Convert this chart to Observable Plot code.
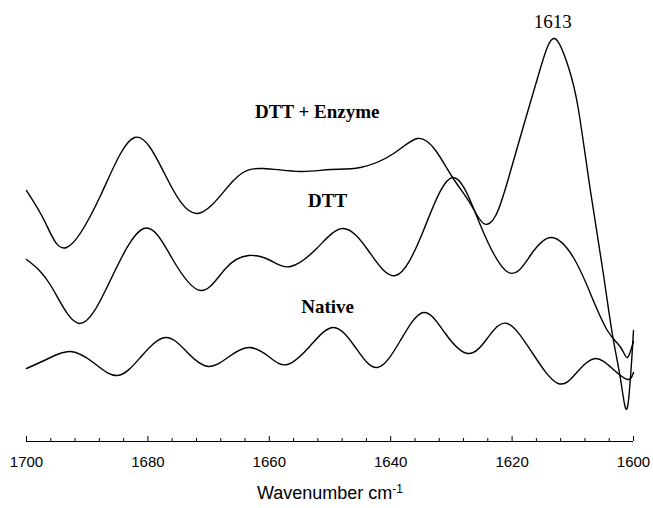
<!DOCTYPE html>
<html>
<head>
<meta charset="utf-8">
<script src="https://cdn.jsdelivr.net/npm/d3@7"></script>
<script src="https://cdn.jsdelivr.net/npm/@observablehq/plot@0.6"></script>
<style>
  html, body { margin: 0; padding: 0; background: #fff; }
  #chart svg { display: block; }
</style>
</head>
<body>
<div id="chart"></div>
<script>
// Second-derivative FTIR spectra (arbitrary units), wavenumber in cm-1
const wnEnzyme = [1700, 1696.9, 1693.4, 1687.8, 1682.2, 1677.1, 1671.8, 1665.9, 1661.0, 1654.9, 1649.9, 1645.0, 1639.5, 1635.6, 1632.6, 1629.8, 1626.9, 1624.7, 1622.7, 1620.8, 1618.1, 1615.3, 1613.0, 1610.7, 1609.1, 1607.1, 1605.1, 1603.5, 1602.1, 1601.0, 1600];
const valEnzyme = [25.1, 21.9, 19.4, 24.6, 30.4, 26.6, 22.8, 26.1, 27.3, 27.0, 27.2, 27.4, 28.8, 30.3, 29.1, 26.4, 23.8, 21.8, 22.6, 25.9, 31.6, 37.4, 40.3, 37.4, 33.3, 25.1, 17.3, 10.8, 6.1, 3.4, 11.1];

const wnDTT = [1700, 1696.0, 1691.3, 1686.2, 1680.7, 1676.0, 1671.3, 1667.2, 1663.4, 1659.8, 1656.5, 1652.2, 1647.9, 1643.7, 1639.2, 1634.6, 1629.8, 1625.2, 1620.6, 1617.0, 1613.5, 1609.9, 1607.1, 1604.3, 1602.1, 1601.0, 1600];
const valDTT = [18.2, 15.6, 11.8, 16.1, 21.3, 18.3, 15.1, 17.3, 18.6, 18.1, 17.5, 19.3, 21.3, 19.1, 16.6, 21.1, 26.4, 21.6, 16.9, 18.6, 20.4, 18.4, 14.8, 11.1, 9.4, 8.4, 10.0];

const wnNative = [1700, 1696.4, 1692.8, 1689.0, 1685.0, 1681.1, 1677.1, 1673.5, 1670.0, 1666.6, 1663.3, 1660.1, 1657.0, 1653.2, 1649.4, 1645.8, 1642.2, 1638.4, 1634.6, 1631.0, 1627.3, 1624.1, 1620.8, 1616.6, 1612.4, 1609.2, 1606.3, 1603.5, 1601.0, 1600];
const valNative = [7.3, 8.3, 9.0, 7.9, 6.6, 8.5, 10.4, 8.9, 7.5, 8.5, 9.4, 8.5, 7.7, 9.6, 11.4, 9.4, 7.4, 10.1, 12.9, 10.8, 8.8, 10.3, 11.8, 8.8, 5.8, 7.0, 8.3, 7.3, 6.2, 6.9];

const majorTicks = [1700, 1680, 1660, 1640, 1620, 1600];
const minorTicks = d3.range(1700, 1599, -4).filter(v => !majorTicks.includes(v));

const seriesLabels = ["DTT + Enzyme", "DTT", "Native"];
const labelX = [1652.1, 1650.4, 1650.4];
const labelY = [33.0, 24.1, 13.5];

const peakLabel = "1613";
const peakX = 1613.3;
const peakY = 42.0;

const toRows = (name, xs, ys) => xs.map((x, i) => ({series: name, x, y: ys[i]}));
const rows = [
  ...toRows("DTT + Enzyme", wnEnzyme, valEnzyme),
  ...toRows("DTT", wnDTT, valDTT),
  ...toRows("Native", wnNative, valNative)
];
const labels = seriesLabels.map((t, i) => ({t, x: labelX[i], y: labelY[i]}));

const plot = Plot.plot({
  width: 653,
  height: 508,
  marginLeft: 26,
  marginRight: 20,
  marginTop: 0,
  marginBottom: 67,
  style: {background: "#fff", color: "#000"},
  x: {domain: [1700, 1600], axis: null},
  y: {domain: [0, 44.1], axis: null},
  marks: [
    Plot.ruleY([0], {stroke: "#000", strokeWidth: 1}),
    Plot.ruleX(majorTicks, {x: d => d, y1: 0, y2: 0.5, stroke: "#000", strokeWidth: 1}),
    Plot.ruleX(minorTicks, {x: d => d, y1: 0, y2: 0.3, stroke: "#000", strokeWidth: 1}),
    Plot.axisX({ticks: majorTicks, tickSize: 0, tickPadding: 15, tickFormat: d => String(d), label: null,
      fontSize: 15, fontFamily: "Liberation Sans, Arial, sans-serif"}),
    Plot.line(rows, {x: "x", y: "y", z: "series", stroke: "#000", strokeWidth: 1.4, curve: "natural"}),
    Plot.text(labels, {x: "x", y: "y", text: "t", fontWeight: "bold", fontSize: 19,
      fontFamily: "Liberation Serif, Times New Roman, serif", fill: "#000"}),
    Plot.text([peakLabel], {x: () => peakX, y: () => peakY, text: d => d, fontSize: 19,
      fontFamily: "Liberation Serif, Times New Roman, serif", fill: "#000"}),
    Plot.text(["Wavenumber cm"], {frameAnchor: "bottom", text: d => d, dy: 57, fontSize: 18,
      fontFamily: "Liberation Sans, Arial, sans-serif", fill: "#000", className: "xlabel"})
  ]
});

document.getElementById("chart").appendChild(plot);

// add the superscript "-1" to the axis title
const t = d3.select(plot).select(".xlabel text");
t.append("tspan").attr("dy", "-0.45em").attr("font-size", 12).text("-1");
</script>
</body>
</html>
